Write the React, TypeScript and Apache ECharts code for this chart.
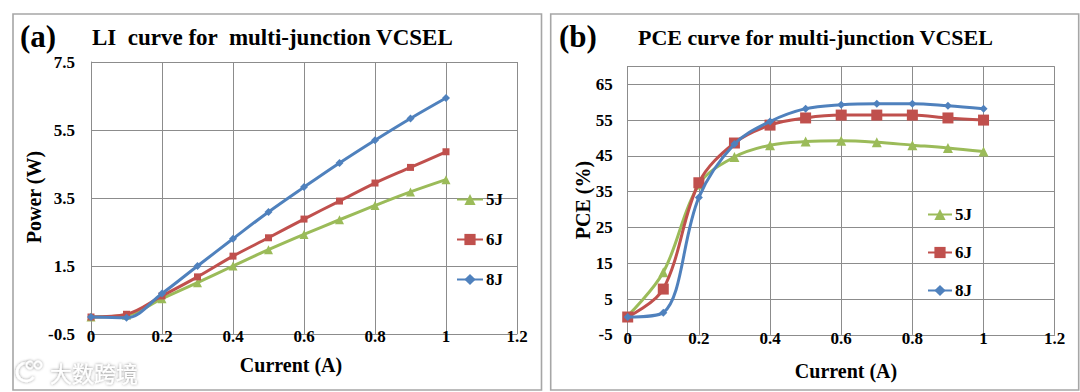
import React, { useEffect, useRef } from "react";
import * as echarts from "echarts";

const currents = [0, 0.1, 0.2, 0.3, 0.4, 0.5, 0.6, 0.7, 0.8, 0.9, 1.0];
const seriesNames = ["5J", "6J", "8J"];

const li5J = [0.0, 0.05, 0.54, 1.01, 1.5, 1.98, 2.43, 2.86, 3.28, 3.68, 4.04];
const li6J = [0.0, 0.08, 0.62, 1.18, 1.79, 2.33, 2.88, 3.41, 3.94, 4.4, 4.86];
const li8J = [0.0, -0.02, 0.69, 1.5, 2.3, 3.09, 3.82, 4.53, 5.2, 5.84, 6.44];

const pce5J = [0.3, 12.5, 37, 44.7, 48.0, 49.0, 49.2, 48.8, 48.0, 47.2, 46.2];
const pce6J = [0, 7.8, 37.5, 48.6, 53.6, 55.6, 56.4, 56.4, 56.4, 55.6, 55.0];
const pce8J = [0, 1.2, 33.4, 48.3, 54.6, 58.2, 59.3, 59.6, 59.6, 59.0, 58.2];

const liYTicks = { min: -0.5, max: 7.5, interval: 2 };
const pceYTicks = { min: -5, max: 70, interval: 10 };
const xTicks = { min: 0, max: 1.2, interval: 0.2 };

const COLORS = ["#9BBB59", "#C0504D", "#4F81BD"];
const SYMBOLS = ["triangle", "rect", "diamond"];
const FONT = "Liberation Serif, Times New Roman, DejaVu Serif, serif";
const GRID_COLOR = "#8C8C8C";

type PanelCfg = {
  tag: string;
  title: string;
  titleSize: number;
  yName: string;
  xName: string;
  yTicks: { min: number; max: number; interval: number };
  data: number[][];
  grid: { left: number; top: number; width: number; height: number };
  panel: { x: number; y: number; w: number; h: number };
  tagX: number;
  titleX: number;
  yNamePos: [number, number];
  xNamePos: [number, number];
  yLabelMargin: number;
  xLabelMargin: number;
  legendLeft: number;
  legendTop: number;
  legendGap: number;
  legendW: number;
  symbolSizes: number[];
  hideMax: boolean;
  watermark: boolean;
};

function buildOption(c: PanelCfg): any {
  const graphic: any[] = [
    {
      type: "rect",
      shape: { x: c.panel.x, y: c.panel.y, width: c.panel.w, height: c.panel.h },
      style: { fill: "#fff", stroke: "#A6A6A6", lineWidth: 1.6 },
      z: -10,
      silent: true,
    },
    {
      type: "text",
      x: c.tagX,
      y: 36,
      style: {
        text: c.tag,
        fontFamily: FONT,
        fontWeight: "bold",
        fontSize: 31,
        fill: "#000",
        verticalAlign: "middle",
      },
    },
    {
      type: "text",
      x: c.titleX,
      y: 37,
      style: {
        text: c.title,
        fontFamily: FONT,
        fontWeight: "bold",
        fontSize: c.titleSize,
        fill: "#000",
        verticalAlign: "middle",
      },
    },
    {
      type: "text",
      x: c.xNamePos[0],
      y: c.xNamePos[1],
      style: {
        text: c.xName,
        fontFamily: FONT,
        fontWeight: "bold",
        fontSize: 20,
        fill: "#000",
        align: "center",
        verticalAlign: "middle",
      },
    },
    {
      type: "text",
      x: c.yNamePos[0],
      y: c.yNamePos[1],
      rotation: Math.PI / 2,
      style: {
        text: c.yName,
        fontFamily: FONT,
        fontWeight: "bold",
        fontSize: 20,
        fill: "#000",
        align: "center",
        verticalAlign: "middle",
      },
    },
  ];
  if (c.watermark) {
    const sh = { shadowColor: "rgba(0,0,0,0.45)", shadowBlur: 3 };
    graphic.push(
      {
        type: "arc",
        shape: { cx: 26, cy: 372, r: 9, startAngle: 0.6, endAngle: 5.6 },
        style: { stroke: "#fff", lineWidth: 2.5, fill: null, ...sh },
      },
      {
        type: "circle",
        shape: { cx: 30, cy: 365, r: 3.5 },
        style: { stroke: "#fff", lineWidth: 1.8, fill: null, ...sh },
      },
      {
        type: "circle",
        shape: { cx: 38, cy: 365, r: 3.5 },
        style: { stroke: "#fff", lineWidth: 1.8, fill: null, ...sh },
      },
      {
        type: "text",
        x: 50,
        y: 372,
        style: {
          text: "大数跨境",
          fontFamily: "Noto Sans CJK SC",
          fontSize: 22,
          fill: "#ffffff",
          verticalAlign: "middle",
          textShadowColor: "rgba(0,0,0,0.5)",
          textShadowBlur: 3,
        },
      }
    );
  }
  return {
    animation: false,
    textStyle: { fontFamily: FONT },
    graphic,
    grid: { ...c.grid, show: false, containLabel: false },
    legend: {
      orient: "vertical",
      left: c.legendLeft,
      top: c.legendTop,
      itemWidth: c.legendW,
      itemHeight: 14,
      itemGap: c.legendGap,
      textStyle: { fontFamily: FONT, fontWeight: "bold", fontSize: 17, color: "#000", padding: [0, 0, 0, -2] },
      data: seriesNames,
      selectedMode: false,
    },
    xAxis: {
      type: "value",
      ...xTicks,
      axisLine: { show: true, onZero: false, lineStyle: { color: GRID_COLOR, width: 1 } },
      axisTick: { show: false },
      axisLabel: { fontFamily: FONT, fontWeight: "bold", fontSize: 17, color: "#000", margin: c.xLabelMargin },
      splitLine: { show: true, lineStyle: { color: GRID_COLOR, width: 1 } },
    },
    yAxis: {
      type: "value",
      ...c.yTicks,
      axisLine: { show: true, onZero: false, lineStyle: { color: GRID_COLOR, width: 1 } },
      axisTick: { show: false },
      axisLabel: {
        fontFamily: FONT,
        fontWeight: "bold",
        fontSize: 17,
        color: "#000",
        margin: c.yLabelMargin,
        showMaxLabel: !c.hideMax,
      },
      splitLine: { show: true, lineStyle: { color: GRID_COLOR, width: 1 } },
    },
    series: seriesNames.map((name, i) => ({
      name,
      type: "line",
      data: currents.map((x, k) => [x, c.data[i][k]]),
      smooth: 0.35,
      symbol: SYMBOLS[i],
      symbolSize: c.symbolSizes[i],
      showAllSymbol: true,
      clip: false,
      lineStyle: { color: COLORS[i], width: 3 },
      itemStyle: { color: COLORS[i] },
      z: 2 + i,
    })),
  };
}

const leftCfg: PanelCfg = {
  tag: "(a)",
  title: "LI  curve for  multi-junction VCSEL",
  titleSize: 23,
  yName: "Power (W)",
  xName: "Current (A)",
  yTicks: liYTicks,
  data: [li5J, li6J, li8J],
  grid: { left: 91, top: 62, width: 426, height: 272 },
  panel: { x: 13, y: 14, w: 528.5, h: 376 },
  tagX: 20,
  titleX: 92,
  yNamePos: [34, 197],
  xNamePos: [291, 365],
  yLabelMargin: 16,
  xLabelMargin: -6,
  legendLeft: 451,
  legendTop: 186,
  legendGap: 23,
  legendW: 26,
  symbolSizes: [9, 7, 8],
  hideMax: false,
  watermark: true,
};

const rightCfg: PanelCfg = {
  tag: "(b)",
  title: "PCE curve for multi-junction VCSEL",
  titleSize: 22,
  yName: "PCE (%)",
  xName: "Current (A)",
  yTicks: pceYTicks,
  data: [pce5J, pce6J, pce8J],
  grid: { left: 81.7, top: 66.4, width: 427, height: 268.5 },
  panel: { x: 4.7, y: 14, w: 528, h: 376 },
  tagX: 13,
  titleX: 92,
  yNamePos: [37, 200],
  xNamePos: [300, 371],
  yLabelMargin: 15,
  xLabelMargin: -5,
  legendLeft: 376,
  legendTop: 201,
  legendGap: 21,
  legendW: 24,
  symbolSizes: [10, 11, 8],
  hideMax: true,
  watermark: false,
};

function Panel({ cfg, left, width }: { cfg: PanelCfg; left: number; width: number }) {
  const ref = useRef<HTMLDivElement>(null);
  useEffect(() => {
    if (!ref.current) return;
    const chart = echarts.init(ref.current, undefined, { renderer: "svg" });
    chart.setOption(buildOption(cfg));
    return () => chart.dispose();
  }, [cfg]);
  return (
    <div
      ref={ref}
      style={{ position: "absolute", left, top: 0, width, height: 392 }}
    />
  );
}

export default function App() {
  return (
    <div
      style={{
        position: "fixed",
        left: 0,
        top: 0,
        width: 1080,
        height: 392,
        background: "#fff",
        overflow: "hidden",
      }}
    >
      <Panel cfg={leftCfg} left={0} width={546} />
      <Panel cfg={rightCfg} left={546} width={534} />
    </div>
  );
}
